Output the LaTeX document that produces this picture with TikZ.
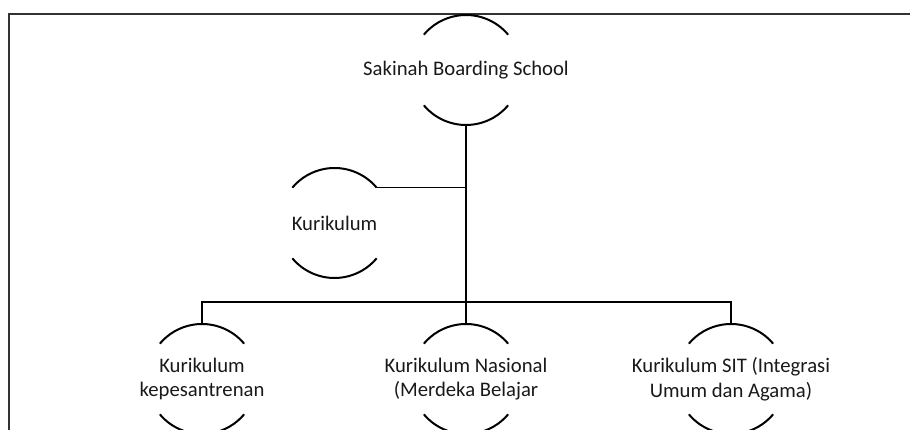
\documentclass[tikz,border=0pt]{standalone}
\usepackage{fontspec}
\setmainfont{Carlito}
\begin{document}
\begin{tikzpicture}[x=1pt,y=1pt,
  ring/.style={circle,minimum size=110pt,inner sep=0pt,outer sep=0pt,draw=none},
  lbl/.style={font=\fontsize{20.7}{24.5}\selectfont,align=center,text=black!90,inner sep=0pt},
  arcline/.style={line width=2pt,black},
  conn/.style={line width=1.6pt,black},
  trunk/.style={line width=2.2pt,black}]
\useasboundingbox (0,0) rectangle (910,430);
\begin{scope}
\clip (0,0) rectangle (910,430);
\draw[line width=1.6pt,black!80] (9,-20) -- (9,416) -- (930,416);
\end{scope}
% nodes
\node[ring] (top) at (466,360) {};
\node[lbl] at (top.center) {Sakinah Boarding School};
\node[ring] (kur) at (334.5,207) {};
\node[lbl] at (kur.center) {Kurikulum};
\node[ring] (c1) at (202,51) {};
\node[lbl] at (c1.center) {Kurikulum\\kepesantrenan};
\node[ring] (c2) at (466,51) {};
\node[lbl] at (c2.center) {Kurikulum Nasional\\(Merdeka Belajar};
\node[ring] (c3) at (731,51) {};
\node[lbl] at (c3.center) {Kurikulum SIT (Integrasi\\Umum dan Agama)};
% arcs
\foreach \n in {top,kur,c1,c2,c3}{
  \draw[arcline] (\n.40) arc (40:140:55pt);
  \draw[arcline] (\n.220) arc (220:320:55pt);
}
% connectors
\coordinate (bus) at (466,128);
\draw[trunk] (top.south) -- (bus);
\draw[conn] (kur.40) -- (kur.40 -| bus);
\draw[conn] (c1.north) |- (bus) -| (c3.north);
\draw[trunk] (bus) -- (c2.north);
\end{tikzpicture}
\end{document}
